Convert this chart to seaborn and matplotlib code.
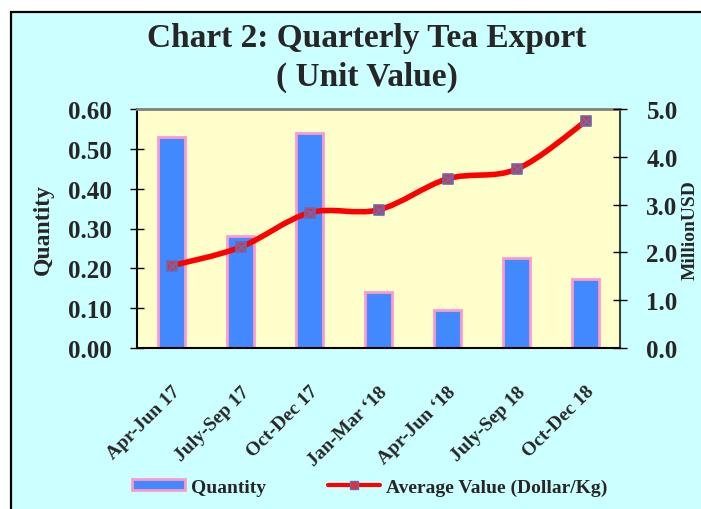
import matplotlib
matplotlib.use("Agg")
import matplotlib.pyplot as plt
import numpy as np
import pandas as pd
import seaborn as sns
from matplotlib.lines import Line2D
from matplotlib.patches import Patch, PathPatch, Rectangle
from matplotlib.path import Path

quarters = ["Apr-Jun 17", "July-Sep 17", "Oct-Dec 17", "Jan-Mar \u201818",
            "Apr-Jun \u201818", "July-Sep 18", "Oct-Dec 18"]
quantity = [0.53, 0.28, 0.54, 0.14, 0.095, 0.227, 0.174]
avg_value = [1.72, 2.11, 2.83, 2.89, 3.54, 3.74, 4.74]
qty_ticks = [0.0, 0.1, 0.2, 0.3, 0.4, 0.5, 0.6]
val_ticks = [0.0, 1.0, 2.0, 3.0, 4.0, 5.0]

sns.set_style("white")
plt.rcParams["font.family"] = ["Liberation Serif", "DejaVu Serif"]
plt.rcParams["font.weight"] = "bold"
plt.rcParams["axes.labelweight"] = "bold"

BAR = "#4289FF"
PINK = "#FF99CC"
RED = "#FF0000"
MARK = "#6A6AB0"

df = pd.DataFrame({"quarter": quarters, "quantity": quantity, "value": avg_value})

fig = plt.figure(figsize=(7.01, 5.10), dpi=100)
fig.patch.set_facecolor("white")
# chart frame (runs past the right/bottom edge like the original)
fig.patches.append(Rectangle((11 / 701, -0.05), 1.2, 1 - 13 / 510 + 0.05,
                             transform=fig.transFigure, facecolor="#CCFFFF",
                             edgecolor="black", linewidth=1.6, zorder=-10))

ax = fig.add_axes([137 / 701, 1 - 349 / 510, 483 / 701, 239 / 510])
ax.set_facecolor("#FFFFCC")
sns.barplot(data=df, x="quarter", y="quantity", ax=ax, color=BAR, width=0.4,
            edgecolor=PINK, linewidth=2, saturation=1)
ax.set_xlim(-0.5, len(quarters) - 0.5)
ax.set_ylim(0, 0.6)
ax.set_yticks(qty_ticks)
ax.set_yticklabels([f"{t:.2f}" for t in qty_ticks], fontsize=18, fontweight="bold")
ax.set_xticks(np.arange(len(quarters) + 1) - 0.5)
ax.set_xticklabels([])
ax.set_xticks(np.arange(len(quarters)), minor=True)
ax.set_xticklabels(quarters, minor=True, rotation=45, ha="right",
                   rotation_mode="anchor", fontsize=14, fontweight="bold")
ax.tick_params(axis="x", which="major", direction="inout", length=12, width=1, color="black")
ax.tick_params(axis="x", which="minor", length=0, pad=25)
ax.tick_params(axis="y", direction="inout", length=10, width=1, color="black", pad=13)
ax.set_xlabel("")
ax.set_ylabel("Quantity", fontsize=17, fontweight="bold", labelpad=10)
for side in ["left", "bottom"]:
    ax.spines[side].set_color("black")
    ax.spines[side].set_linewidth(1.5)
ax.spines["top"].set_color("#808080")
ax.spines["top"].set_linewidth(2)
ax.spines["right"].set_color("#404040")
ax.spines["right"].set_linewidth(1.5)

ax2 = ax.twinx()
ax2.set_ylim(0, 5)
ax2.set_yticks(val_ticks)
ax2.set_yticklabels([f"{t:.1f}" for t in val_ticks], fontsize=18, fontweight="bold")
ax2.tick_params(axis="y", direction="inout", length=10, width=1, color="black", pad=14)
for s in ax2.spines.values():
    s.set_visible(False)

# smoothed line (cubic Bezier through the data points)
xs = np.arange(len(avg_value), dtype=float)
ys = np.array(avg_value)
pts = np.column_stack([xs, ys])
verts = [pts[0]]
codes = [Path.MOVETO]
for i in range(len(pts) - 1):
    p0 = pts[i - 1] if i > 0 else pts[i]
    p3 = pts[i + 2] if i + 2 < len(pts) else pts[i + 1]
    c1 = pts[i] + (pts[i + 1] - p0) / 6
    c2 = pts[i + 1] - (p3 - pts[i]) / 6
    verts += [c1, c2, pts[i + 1]]
    codes += [Path.CURVE4] * 3
ax2.add_patch(PathPatch(Path(verts, codes), facecolor="none", edgecolor=RED,
                        linewidth=4, capstyle="round", zorder=3))
sns.scatterplot(data=df, x=xs, y="value", ax=ax2, marker="s", s=45,
                color="#E03040", edgecolor=MARK, linewidth=1.2, zorder=4)
sns.scatterplot(data=df, x=xs, y="value", ax=ax2, marker="x", s=30,
                color=MARK, linewidth=1.4, zorder=5)
ax2.set_xlim(-0.5, len(quarters) - 0.5)
ax2.set_ylabel("")
ax2.set_xlabel("")

fig.text(690 / 701, 1 - 230 / 510, "MillionUSD", rotation=90, fontsize=14,
         fontweight="bold", ha="center", va="center")

fig.text(367 / 701, 1 - 38 / 510, "Chart 2: Quarterly Tea Export", fontsize=24,
         fontweight="bold", ha="center", va="center")
fig.text(367 / 701, 1 - 77 / 510, "( Unit Value)", fontsize=24,
         fontweight="bold", ha="center", va="center")

handles = [
    Patch(facecolor=BAR, edgecolor=PINK, linewidth=2),
    Line2D([0], [0], color=RED, linewidth=3, marker="s", markersize=6,
           markerfacecolor="#E03040", markeredgecolor=MARK),
]
fig.legend(handles, ["Quantity", "Average Value (Dollar/Kg)"], loc="center",
           bbox_to_anchor=(370 / 701, 1 - 488 / 510), ncol=2, frameon=False,
           prop={"size": 14, "weight": "bold"}, handlelength=2.7, handleheight=0.5,
           columnspacing=3.2, handletextpad=0.3)

fig.savefig("out.png", dpi=100, facecolor=fig.get_facecolor())
